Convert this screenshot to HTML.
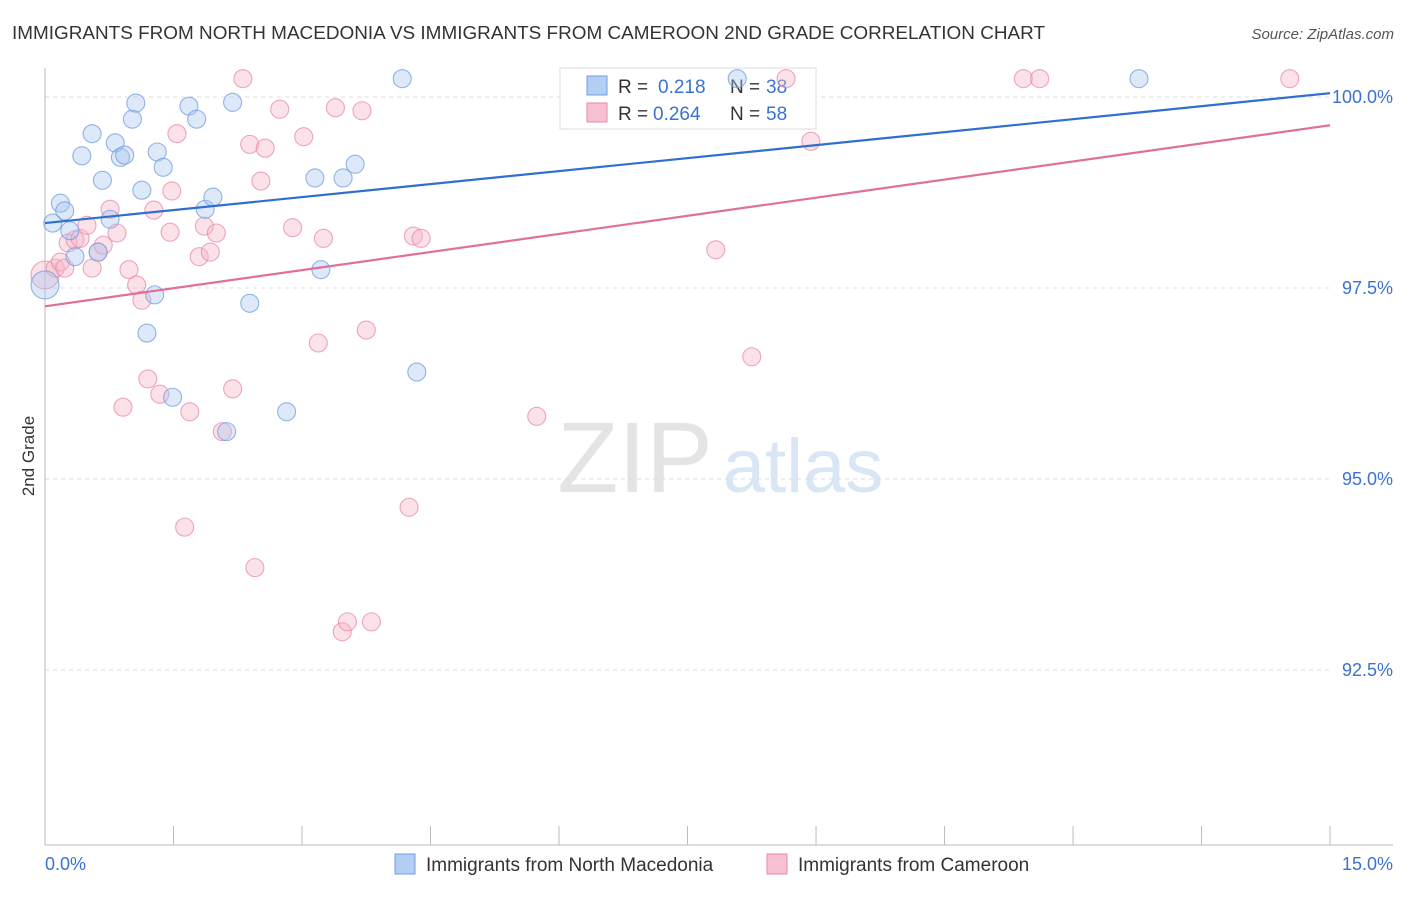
<!DOCTYPE html>
<html><head><meta charset="utf-8"><style>
body{margin:0;background:#fff;font-family:"Liberation Sans",sans-serif;}
svg text{font-family:"Liberation Sans",sans-serif;}
</style></head><body>
<svg id="chart" width="1406" height="892" xmlns="http://www.w3.org/2000/svg">
<text x="12" y="39" font-size="18" fill="#333" textLength="1033" lengthAdjust="spacingAndGlyphs">IMMIGRANTS FROM NORTH MACEDONIA VS IMMIGRANTS FROM CAMEROON 2ND GRADE CORRELATION CHART</text>
<text x="1394" y="39" font-size="15" fill="#555" text-anchor="end" font-style="italic">Source: ZipAtlas.com</text>
<text transform="translate(34,456) rotate(-90)" font-size="17" fill="#333" text-anchor="middle">2nd Grade</text>
<g><text x="635" y="492" font-size="100" fill="#e4e4e4" text-anchor="middle" font-family="Liberation Serif">ZIP</text><text x="803" y="492" font-size="76" fill="#d8e6f6" text-anchor="middle">atlas</text></g>
<g id="grid"></g><g id="axes"></g>
<g>
<rect x="560" y="68" width="256" height="61" fill="#fff" stroke="#ddd"/>
<rect x="587" y="76" width="20" height="19" fill="#b4cdf2" stroke="#6f9ee0"/>
<text x="618" y="93" font-size="19" fill="#333">R = </text><text x="658" y="93" font-size="19" fill="#3b72d0">0.218</text>
<text x="730" y="93" font-size="19" fill="#333">N = </text><text x="766" y="93" font-size="19" fill="#3b72d0">38</text>
<rect x="587" y="103" width="20" height="19" fill="#f6c0d0" stroke="#e88aa8"/>
<text x="618" y="120" font-size="19" fill="#333">R = </text><text x="653" y="120" font-size="19" fill="#3b72d0">0.264</text>
<text x="730" y="120" font-size="19" fill="#333">N = </text><text x="766" y="120" font-size="19" fill="#3b72d0">58</text>
</g>
<g id="marks"></g>
<g>
<rect x="395" y="854" width="20" height="20" fill="#b4cdf2" stroke="#6f9ee0"/>
<text x="426" y="871" font-size="19" fill="#333">Immigrants from North Macedonia</text>
<rect x="767" y="854" width="20" height="20" fill="#f6c0d0" stroke="#e88aa8"/>
<text x="798" y="871" font-size="19" fill="#333">Immigrants from Cameroon</text>
</g>
</svg>
<script>
const blueX=[0.09,0.18,0.23,0.29,0.35,0.43,0.55,0.67,0.76,0.82,0.88,0.93,1.02,1.06,1.13,1.19,1.28,1.31,1.38,1.49,1.68,1.77,1.87,1.96,2.12,2.19,2.39,2.82,3.15,3.22,3.48,3.62,4.17,4.34,8.08,12.77,0.0,0.62];
const blueY=[98.35,98.61,98.51,98.25,97.91,99.23,99.52,98.91,98.40,99.40,99.21,99.24,99.71,99.92,98.78,96.91,97.41,99.28,99.08,96.07,99.88,99.71,98.53,98.69,95.62,99.93,97.30,95.88,98.94,97.74,98.94,99.12,100.24,96.40,100.24,100.24,97.54,97.97];
const pinkX=[0.0,0.12,0.18,0.23,0.27,0.35,0.41,0.49,0.55,0.62,0.68,0.76,0.84,0.91,0.98,1.07,1.13,1.20,1.27,1.34,1.46,1.48,1.54,1.69,1.80,1.86,1.93,2.00,2.07,2.19,2.31,2.39,2.45,2.52,2.57,2.74,1.63,2.89,3.02,3.19,3.25,3.39,3.47,3.53,3.70,3.75,3.81,4.25,4.30,4.39,5.74,7.83,8.25,8.94,11.42,11.61,14.53,8.65];
const pinkY=[97.67,97.76,97.84,97.76,98.09,98.13,98.15,98.32,97.76,97.97,98.06,98.53,98.22,95.94,97.74,97.54,97.34,96.31,98.52,96.11,98.23,98.77,99.52,95.88,97.91,98.31,97.97,98.22,95.62,96.18,100.24,99.38,93.84,98.90,99.33,99.84,94.37,98.29,99.48,96.78,98.15,99.86,93.00,93.13,99.82,96.95,93.13,94.63,98.18,98.15,95.82,98.00,96.60,99.42,100.24,100.24,100.24,100.24];
const blueTrend=[98.35,100.05];
const pinkTrend=[97.26,99.63];
const yTicks=[100,97.5,95,92.5];
const yTickLabels=["100.0%","97.5%","95.0%","92.5%"];
const xTicks=[0,1.5,3,4.5,6,7.5,9,10.5,12,13.5,15];
const NS='http://www.w3.org/2000/svg';
const sx=v=>45+v*85.67, sy=v=>97+(100-v)*76.4;
function mk(t,a,p){const e=document.createElementNS(NS,t);for(const k in a)e.setAttribute(k,a[k]);document.getElementById(p).appendChild(e);return e;}
yTicks.forEach((t,i)=>{
 const l=mk('line',{x1:45,x2:1330,y1:sy(t),y2:sy(t),stroke:'#ddd','stroke-dasharray':'4,4'},'grid');
 
 
 const tx=mk('text',{x:1393,y:sy(t)+6,'font-size':18,fill:'#3b72d0','text-anchor':'end'},'axes');tx.textContent=yTickLabels[i];
 
 
});
let a=mk('line',{x1:45,x2:45,y1:68,y2:845,stroke:'#bbb'},'axes');


a=mk('line',{x1:45,x2:1393,y1:845,y2:845,stroke:'#bbb'},'axes');


xTicks.forEach(t=>{const l=mk('line',{x1:sx(t),x2:sx(t),y1:826,y2:845,stroke:'#bbb'},'axes');
 
 });
let t0=mk('text',{x:45,y:870,'font-size':18,fill:'#3b72d0'},'axes');t0.textContent='0.0%';


t0=mk('text',{x:1393,y:870,'font-size':18,fill:'#3b72d0','text-anchor':'end'},'axes');t0.textContent='15.0%';


function pts(X,Y,fill,stroke,name){X.forEach((x,i)=>{const r=(x===0)?14:9;
 const c=mk('circle',{cx:sx(x),cy:sy(Y[i]),r:r,fill:fill,'fill-opacity':0.4,stroke:stroke,'stroke-opacity':0.75,'stroke-width':1.1},'marks');
 
 });}
pts(pinkX,pinkY,'#f4b6c8','#e88aa8','cameroon-point');
pts(blueX,blueY,'#a9c6f0','#6f9ee0','north-macedonia-point');
let tl=mk('line',{x1:sx(0),x2:sx(15),y1:sy(blueTrend[0]),y2:sy(blueTrend[1]),stroke:'#2f6fd0','stroke-width':2.2},'marks');


tl=mk('line',{x1:sx(0),x2:sx(15),y1:sy(pinkTrend[0]),y2:sy(pinkTrend[1]),stroke:'#e0709a','stroke-width':2.2},'marks');


</script>
</body></html>
